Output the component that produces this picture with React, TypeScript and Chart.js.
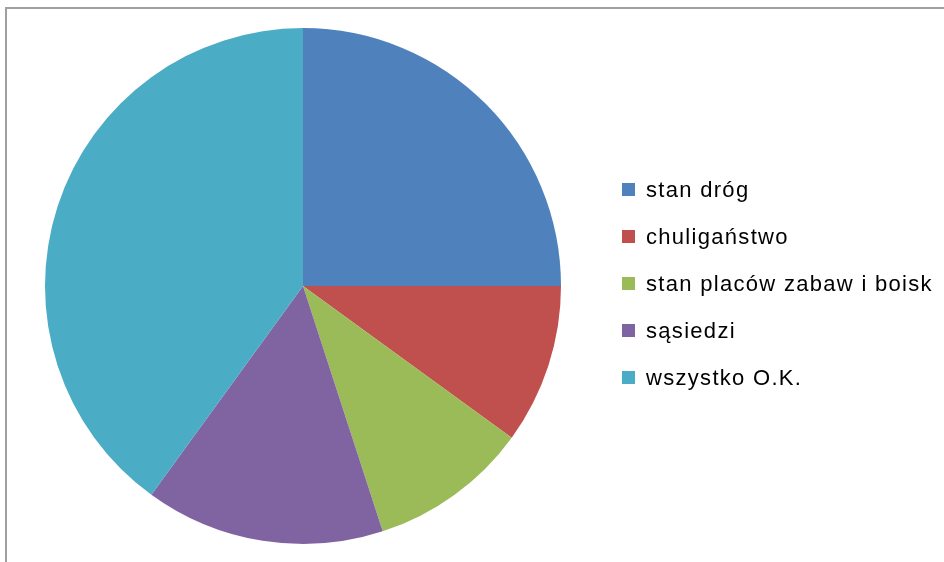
import React, { useEffect, useRef } from "react";
import { Chart, registerables } from "chart.js";

Chart.register(...registerables);

const categories = ["stan dróg", "chuligaństwo", "stan placów zabaw i boisk", "sąsiedzi", "wszystko O.K."];
const values = [25, 10, 10, 15, 40];
const colors = ["#4F81BD", "#C0504D", "#9BBB59", "#8064A2", "#4BACC6"];

const legendPlugin = {
  id: "customLegend",
  afterDraw(chart: any) {
    const ctx = chart.ctx as CanvasRenderingContext2D;
    const items = chart.options.plugins.legend.labels.generateLabels(chart);
    const x0 = 622;
    const y0 = 189.5;
    const step = 47;
    const box = 13;
    ctx.save();
    ctx.font = '22px "Liberation Sans", Arial, sans-serif';
    (ctx as any).letterSpacing = "1.3px";
    ctx.textBaseline = "alphabetic";
    ctx.textAlign = "left";
    items.forEach((it: any, i: number) => {
      const cy = y0 + i * step;
      ctx.fillStyle = it.fillStyle;
      ctx.fillRect(x0, cy - box / 2, box, box);
      ctx.fillStyle = "#000000";
      ctx.fillText(it.text, x0 + 24, cy + 7.5);
    });
    ctx.restore();
  },
};

export default function App() {
  const ref = useRef<HTMLCanvasElement | null>(null);
  useEffect(() => {
    if (!ref.current) return;
    const chart = new Chart(ref.current, {
      type: "pie",
      data: {
        labels: categories,
        datasets: [
          {
            data: values,
            backgroundColor: colors,
            borderWidth: 0,
            hoverOffset: 0,
          },
        ],
      },
      options: {
        responsive: false,
        animation: false,
        devicePixelRatio: 1,
        layout: { padding: { left: 45, right: 944 - 561, top: 28, bottom: 562 - 544 } },
        plugins: {
          legend: { display: false },
          tooltip: { enabled: false },
        },
      },
      plugins: [legendPlugin],
    });
    return () => chart.destroy();
  }, []);
  return (
    <div style={{ position: "fixed", left: 0, top: 0, width: 944, height: 562, background: "#fff", overflow: "hidden" }}>
      <div
        style={{
          position: "absolute",
          left: 5,
          top: 7,
          width: 1000,
          height: 1000,
          borderLeft: "2px solid #a0a0a0",
          borderTop: "2px solid #a0a0a0",
        }}
      />
      <canvas ref={ref} width={944} height={562} style={{ position: "absolute", left: 0, top: 0 }} />
    </div>
  );
}
